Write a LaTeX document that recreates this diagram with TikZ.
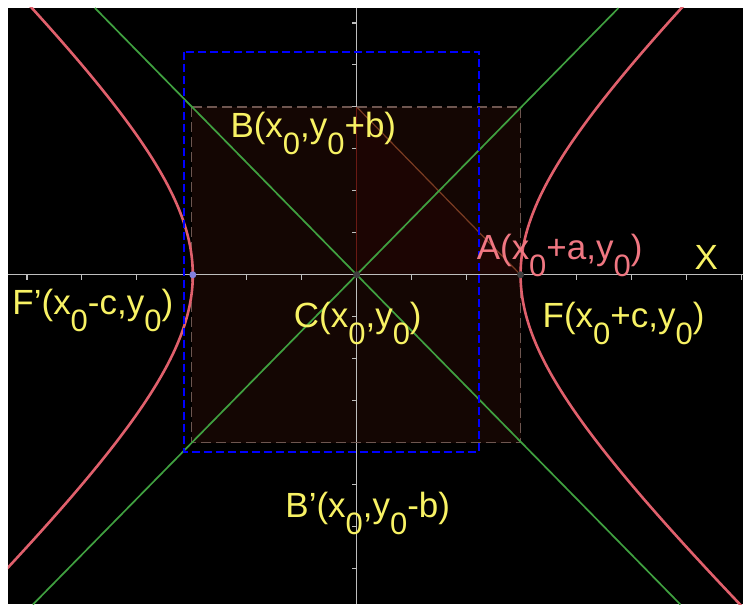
\documentclass[tikz,border=0pt]{standalone}
\usepackage{fontspec}
\setmainfont{Liberation Sans}
\usepackage{tikz}
\usetikzlibrary{positioning}

\definecolor{hypred}{HTML}{E0606C}
\definecolor{asymgreen}{HTML}{40A040}
\definecolor{lblyellow}{HTML}{F8F264}
\definecolor{lblpink}{HTML}{F07782}
\definecolor{boxfill}{HTML}{140603}
\definecolor{trifill}{HTML}{1C0503}
\definecolor{boxedge}{HTML}{6E5650}
\definecolor{axisgrey}{HTML}{BEBEBE}
\definecolor{legred}{HTML}{6A1A14}
\definecolor{legbrown}{HTML}{7A3C22}
\definecolor{dotblue}{HTML}{8080E0}
\definecolor{dotgrey}{HTML}{404040}

\newcommand{\zsub}{\raisebox{-17pt}{\fontsize{31}{31}\selectfont 0}}

\begin{document}
\begin{tikzpicture}[x=1pt, y=-1pt,
    lbl/.style={anchor=base west, inner sep=0pt, text=lblyellow,
                font=\fontsize{35}{37}\selectfont},
    axis/.style={draw=axisgrey, line width=1.3pt},
    tick/.style={draw=axisgrey, line width=1.1pt},
    asym/.style={draw=asymgreen, line width=1.7pt},
    hyp/.style={draw=hypred, line width=2.6pt},
    bluebox/.style={draw=blue, line width=2pt, dash pattern=on 8pt off 4pt},
    brownbox/.style={draw=boxedge, line width=1.2pt, dash pattern=on 10pt off 5pt}
]
    % --- Background ---
    \fill[white] (0,0) rectangle (744,605);
    \fill[black] (8,8) rectangle (744,605);

    % --- Points ---
    \coordinate (C)  at (357,275);
    \coordinate (A)  at (521,275);
    \coordinate (B)  at (357,107);
    \coordinate (Fp) at (193,275);

    % --- Rectangle a x b ---
    \fill[boxfill] (192,107) rectangle (521,443);
    \fill[trifill] (C) -- (B) -- (A) -- cycle;

    % --- Axes ---
    \draw[axis] (8,275) -- (744,275);
    \draw[axis] (357,8) -- (357,605);
    \foreach \k in {-6,...,7}{
        \ifnum\k=0\else
            \draw[tick] ({357+55*\k},275) -- ++(0,5);
            \draw[tick] (357,{275+42*\k}) -- ++(-5,0);
        \fi
    }

    % --- Triangle C-B-A ---
    \draw[legred, line width=1.4pt] (C) -- (B);
    \draw[legbrown, line width=1.2pt] (B) -- (A);
    \draw[brownbox] (192,107) rectangle (521,443);

    \begin{scope}
        \clip (8,8) rectangle (744,605);
        % --- Asymptotes ---
        \coordinate (tl) at (95,8);
        \coordinate (br) at (681,605);
        \coordinate (tr) at (619,8);
        \coordinate (bl) at (33,605);
        \draw[asym] (tl) -- (C) -- (br);
        \draw[asym] (tr) -- (C) -- (bl);
        % --- Hyperbola ---
        \draw[hyp] plot[domain=-2.2:2.2, samples=90, variable=\t, smooth]
            ({357+164*cosh(\t)},{275+156*sinh(\t)});
        \draw[hyp] plot[domain=-2.2:2.2, samples=90, variable=\t, smooth]
            ({357-164*cosh(\t)},{275+156*sinh(\t)});
    \end{scope}

    % --- Blue dashed rectangle ---
    \draw[bluebox] (184,52) rectangle (479,452);

    % --- Dots ---
    \fill[dotblue] (Fp) circle (3.5);
    \fill[dotgrey] (C) circle (3.5);
    \fill[dotgrey] (A) circle (3.5);

    % --- Labels ---
    \node[lbl] (labB)  at (230.5,137.7) {B(x\zsub,y\zsub+b)};
    \node[lbl, text=lblpink] (labA) at (477,260) {A(x\zsub+a,y\zsub)};
    \node[lbl] (labX)  at (695,270) {X};
    \node[lbl] (labFp) at (12.3,315) {F’(x\zsub-c,y\zsub)};
    \node[lbl] (labC)  at (294,328) {C(x\zsub,y\zsub)};
    \node[lbl] (labF)  at (543,328) {F(x\zsub+c,y\zsub)};
    \node[lbl] (labBp) at (285.5,518) {B’(x\zsub,y\zsub-b)};
\end{tikzpicture}
\end{document}
